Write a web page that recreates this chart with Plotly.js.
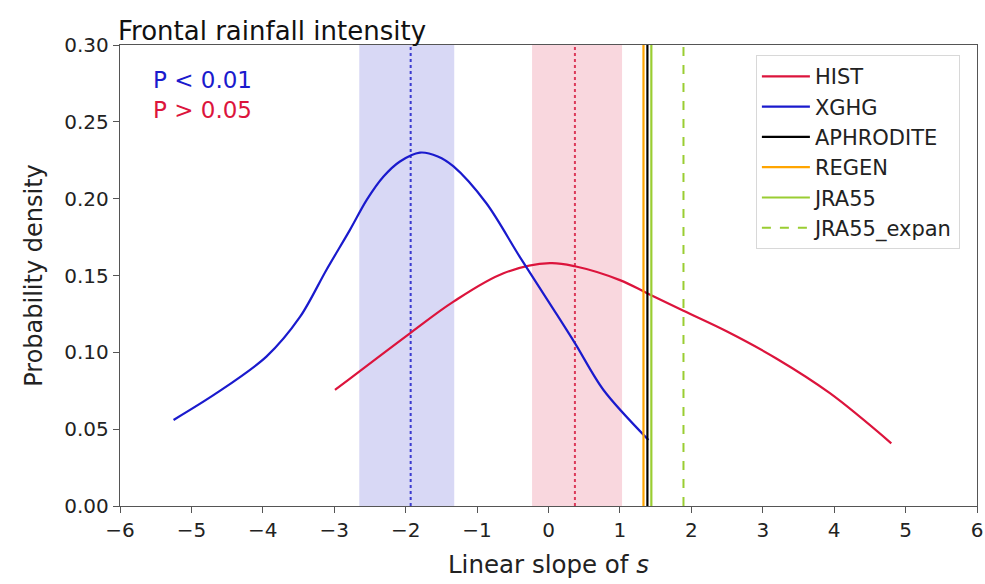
<!DOCTYPE html>
<html>
<head>
<meta charset="utf-8">
<script src="https://cdn.plot.ly/plotly-3.0.1.min.js"></script>
<style>html,body{margin:0;padding:0;background:#fff;}#chart{width:985px;height:584px;}</style>
</head>
<body>
<div id="chart"></div>
<script>
// HIST (crimson) density curve
const histX = [-2.99, -1.94, -1.33, -0.63, 0.02, 0.37, 1.0, 1.38, 1.89, 2.50, 3.19, 3.94, 4.80];
const histY = [0.0755, 0.1124, 0.133, 0.1515, 0.158, 0.156, 0.147, 0.1385, 0.127, 0.1135, 0.096, 0.0734, 0.0408];
// XGHG (blue) density curve
const xghgX = [-5.25, -4.65, -3.95, -3.48, -3.11, -2.78, -2.545, -2.31, -2.08, -1.80, -1.55, -1.33, -0.87, -0.40, 0.07, 0.37, 0.77, 1.40];
const xghgY = [0.056, 0.0734, 0.0972, 0.123, 0.1536, 0.1797, 0.1992, 0.2144, 0.2242, 0.230, 0.2275, 0.221, 0.197, 0.162, 0.128, 0.106, 0.0755, 0.043];
// Observed slopes (vertical lines)
const obsNames = ["APHRODITE", "REGEN", "JRA55", "JRA55_expan"];
const obsValues = [1.385, 1.33, 1.44, 1.89];
// Ensemble means and spread bands
const xghgMean = -1.93, xghgBand = [-2.65, -1.32];
const histMean = 0.37, histBand = [-0.23, 1.03];
const yTop = 0.30;

const font = "DejaVu Sans, Liberation Sans, sans-serif";
const traces = [];
traces.push({x: [xghgMean, xghgMean], y: [0, yTop], mode: 'lines', line: {color: '#3b3bd0', width: 2, dash: 'dot'}, showlegend: false, hoverinfo: 'skip'});
traces.push({x: [histMean, histMean], y: [0, yTop], mode: 'lines', line: {color: '#dc3a5a', width: 2, dash: 'dot'}, showlegend: false, hoverinfo: 'skip'});
traces.push({x: histX, y: histY, mode: 'lines', name: 'HIST', line: {color: '#dc143c', width: 2.2, shape: 'spline', smoothing: 1}, legendrank: 1});
traces.push({x: xghgX, y: xghgY, mode: 'lines', name: 'XGHG', line: {color: '#1a1acd', width: 2.2, shape: 'spline', smoothing: 0.9}, legendrank: 2});
const obsStyle = {
  APHRODITE: {color: '#000000', width: 2.2, dash: 'solid', rank: 3},
  REGEN: {color: '#ffa500', width: 2.2, dash: 'solid', rank: 4},
  JRA55: {color: '#9acd32', width: 2.2, dash: 'solid', rank: 5},
  JRA55_expan: {color: '#9acd32', width: 2, dash: 'dash', rank: 6}
};
const drawOrder = ["REGEN", "JRA55", "APHRODITE", "JRA55_expan"];
drawOrder.forEach(n => {
  const i = obsNames.indexOf(n);
  const s = obsStyle[n];
  traces.push({x: [obsValues[i], obsValues[i]], y: [0, yTop], mode: 'lines', name: n,
    line: {color: s.color, width: s.width, dash: s.dash}, legendrank: s.rank});
});

const layout = {
  width: 985, height: 584,
  margin: {l: 120, r: 8, t: 45, b: 78},
  paper_bgcolor: '#fff', plot_bgcolor: '#fff',
  font: {family: font, color: '#222', size: 18},
  showlegend: true,
  legend: {x: 0.742, y: 0.978, xanchor: 'left', yanchor: 'top', bgcolor: 'rgba(255,255,255,0.9)',
    bordercolor: '#d8d8d8', borderwidth: 1, font: {family: font, size: 21, color: '#222'},
    itemwidth: 48},
  xaxis: {range: [-6, 6], dtick: 1, tick0: 0, showgrid: false, zeroline: false,
    showline: true, linecolor: '#555', linewidth: 1.3, mirror: true,
    ticks: 'outside', ticklen: 6, tickcolor: '#555', tickfont: {family: font, size: 20, color: '#222'},
    title: {text: 'Linear slope of <i>s</i>', font: {family: font, size: 24.5, color: '#222'}, standoff: 14}},
  yaxis: {range: [0, yTop], dtick: 0.05, tickformat: '.2f', showgrid: false, zeroline: false,
    showline: true, linecolor: '#555', linewidth: 1.3, mirror: true,
    ticks: 'outside', ticklen: 6, tickcolor: '#555', tickfont: {family: font, size: 20, color: '#222'},
    title: {text: 'Probability density', font: {family: font, size: 24, color: '#222'}, standoff: 14}},
  shapes: [
    {type: 'rect', xref: 'x', yref: 'y', x0: xghgBand[0], x1: xghgBand[1], y0: 0, y1: yTop,
      fillcolor: 'rgba(60,60,205,0.2)', line: {width: 0}, layer: 'below'},
    {type: 'rect', xref: 'x', yref: 'y', x0: histBand[0], x1: histBand[1], y0: 0, y1: yTop,
      fillcolor: 'rgba(220,20,60,0.17)', line: {width: 0}, layer: 'below'}
  ],
  annotations: [
    {text: 'Frontal rainfall intensity', xref: 'paper', yref: 'paper', x: 0, y: 1, xanchor: 'left', yanchor: 'bottom',
      xshift: -4, yshift: -3, showarrow: false, font: {family: font, size: 26, color: '#111'}},
    {text: 'P < 0.01', xref: 'paper', yref: 'paper', x: 0.036, y: 0.925, xanchor: 'left', yanchor: 'middle',
      showarrow: false, font: {family: font, size: 23, color: '#1a1acd'}},
    {text: 'P > 0.05', xref: 'paper', yref: 'paper', x: 0.036, y: 0.86, xanchor: 'left', yanchor: 'middle',
      showarrow: false, font: {family: font, size: 23, color: '#dc143c'}}
  ]
};
Plotly.newPlot('chart', traces, layout, {displayModeBar: false, staticPlot: true});
</script>
</body>
</html>
